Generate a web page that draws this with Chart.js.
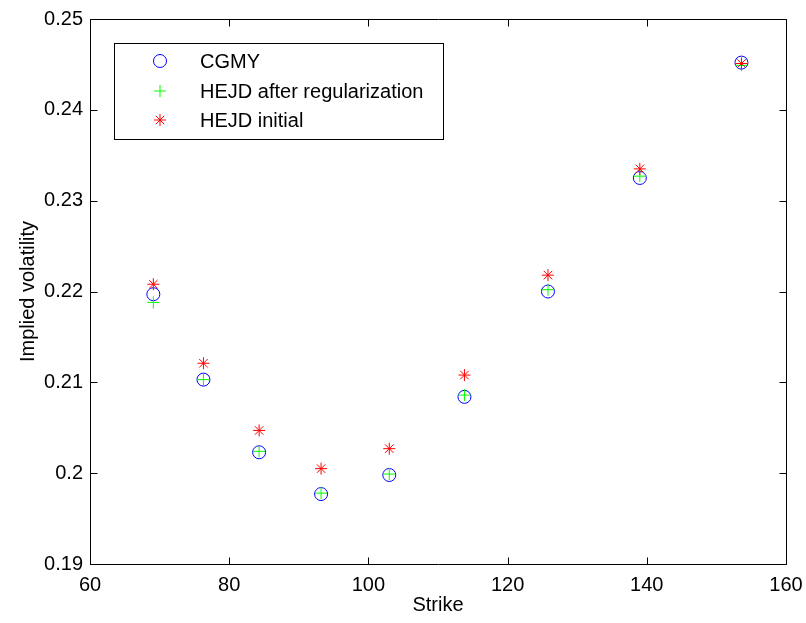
<!DOCTYPE html>
<html>
<head>
<meta charset="utf-8">
<title>Implied volatility vs strike</title>
<script src="https://cdn.jsdelivr.net/npm/chart.js@4.4.1/dist/chart.umd.min.js"></script>
<style>
  body { margin: 0; background: #fff; }
  canvas { display: block; }
</style>
</head>
<body>
<canvas id="volChart" width="806" height="623"></canvas>
<script>
/* Implied volatility by strike: CGMY vs HEJD fits */
const strikes = [69.1, 76.3, 84.3, 93.2, 103.0, 113.8, 125.8, 139.0, 153.6];
const cgmy = [0.2197, 0.2103, 0.2023, 0.1977, 0.1998, 0.2084, 0.2200, 0.2325, 0.2452];
const hejdRegularized = [0.2188, 0.2103, 0.2024, 0.1978, 0.1999, 0.2086, 0.2202, 0.2327, 0.2449];
const hejdInitial = [0.2208, 0.2121, 0.2047, 0.2005, 0.2027, 0.2108, 0.2218, 0.2335, 0.2451];

const xTicks = [60, 80, 100, 120, 140, 160];
const yTicks = [0.19, 0.20, 0.21, 0.22, 0.23, 0.24, 0.25];

const seriesNames = ["CGMY", "HEJD after regularization", "HEJD initial"];

Chart.defaults.font.family = "'Liberation Sans', Arial, sans-serif";
Chart.defaults.font.size = 20;
Chart.defaults.color = "#000";

function points(ys) {
  return strikes.map((k, i) => ({ x: k, y: ys[i] }));
}

// marker drawing shared by the legend
function drawMarker(ctx, style, x, y, r, color) {
  ctx.save();
  ctx.strokeStyle = color;
  ctx.lineWidth = 1;
  ctx.beginPath();
  if (style === "circle") {
    ctx.arc(x, y, r, 0, Math.PI * 2);
  } else {
    ctx.moveTo(x - r, y); ctx.lineTo(x + r, y);
    ctx.moveTo(x, y - r); ctx.lineTo(x, y + r);
    if (style === "star") {
      const d = r * Math.SQRT1_2;
      ctx.moveTo(x - d, y - d); ctx.lineTo(x + d, y + d);
      ctx.moveTo(x - d, y + d); ctx.lineTo(x + d, y - d);
    }
  }
  ctx.stroke();
  ctx.restore();
}

// box around the axes with inward tick marks on all four sides
const axesFrame = {
  id: "axesFrame",
  afterDatasetsDraw(chart) {
    const { ctx, chartArea: a, scales } = chart;
    const len = 7;
    ctx.save();
    ctx.strokeStyle = "#000";
    ctx.lineWidth = 1;
    ctx.beginPath();
    const l = Math.round(a.left) + 0.5, r = Math.round(a.right) + 0.5;
    const t = Math.round(a.top) + 0.5, b = Math.round(a.bottom) + 0.5;
    ctx.rect(l, t, r - l, b - t);
    scales.x.ticks.forEach(tk => {
      const px = Math.round(scales.x.getPixelForValue(tk.value)) + 0.5;
      ctx.moveTo(px, b); ctx.lineTo(px, b - len);
      ctx.moveTo(px, t); ctx.lineTo(px, t + len);
    });
    scales.y.ticks.forEach(tk => {
      const py = Math.round(scales.y.getPixelForValue(tk.value)) + 0.5;
      ctx.moveTo(l, py); ctx.lineTo(l + len, py);
      ctx.moveTo(r, py); ctx.lineTo(r - len, py);
    });
    ctx.stroke();
    ctx.restore();
  }
};

// boxed legend in the upper left of the axes
const boxLegend = {
  id: "boxLegend",
  afterDraw(chart) {
    const { ctx } = chart;
    const box = { x: 114.5, y: 43.5, w: 329, h: 96 };
    ctx.save();
    ctx.fillStyle = "#fff";
    ctx.fillRect(box.x, box.y, box.w, box.h);
    ctx.strokeStyle = "#000";
    ctx.lineWidth = 1;
    ctx.strokeRect(box.x, box.y, box.w, box.h);
    const rows = [61, 91, 120];
    ctx.font = "20px 'Liberation Sans', Arial, sans-serif";
    ctx.textBaseline = "middle";
    ctx.textAlign = "left";
    ctx.fillStyle = "#000";
    chart.data.datasets.forEach((ds, i) => {
      drawMarker(ctx, ds.pointStyle, 160, rows[i], ds.pointRadius, ds.borderColor);
      ctx.fillText(ds.label, 200, rows[i] + 1);
    });
    ctx.restore();
  }
};

const config = {
  type: "scatter",
  data: {
    datasets: [
      {
        label: seriesNames[0],
        data: points(cgmy),
        pointStyle: "circle",
        pointRadius: 6.5,
        borderColor: "#0000ff",
        backgroundColor: "rgba(0,0,0,0)",
        borderWidth: 1,
        order: 2
      },
      {
        label: seriesNames[1],
        data: points(hejdRegularized),
        pointStyle: "cross",
        pointRadius: 6,
        borderColor: "#00ff00",
        backgroundColor: "#00ff00",
        borderWidth: 1,
        order: 1
      },
      {
        label: seriesNames[2],
        data: points(hejdInitial),
        pointStyle: "star",
        pointRadius: 6,
        borderColor: "#ff0000",
        backgroundColor: "#ff0000",
        borderWidth: 1,
        order: 0
      }
    ]
  },
  options: {
    responsive: false,
    animation: false,
    events: [],
    layout: { padding: { top: 17, right: 20, left: 0, bottom: 0 } },
    plugins: {
      legend: { display: false },
      tooltip: { enabled: false }
    },
    scales: {
      x: {
        type: "linear",
        min: 60,
        max: 160,
        afterBuildTicks: s => { s.ticks = xTicks.map(v => ({ value: v })); },
        afterFit: s => { s.height = 59; s.paddingLeft = 0; s.paddingRight = 0; },
        grid: { display: false, drawTicks: false },
        border: { display: false },
        ticks: { padding: 9, maxRotation: 0, callback: v => String(v) },
        title: { display: true, text: "Strike", padding: { top: 0, bottom: 6 } }
      },
      y: {
        type: "linear",
        min: 0.19,
        max: 0.25,
        afterBuildTicks: s => { s.ticks = yTicks.map(v => ({ value: v })); },
        afterFit: s => { s.width = 90; },
        grid: { display: false, drawTicks: false },
        border: { display: false },
        ticks: { padding: 7, callback: v => String(+v.toFixed(2)) },
        title: { display: true, text: "Implied volatility", padding: { top: 16, bottom: 0 } }
      }
    }
  },
  plugins: [axesFrame, boxLegend]
};

var volChart = new Chart(document.getElementById("volChart"), config);
</script>
</body>
</html>
